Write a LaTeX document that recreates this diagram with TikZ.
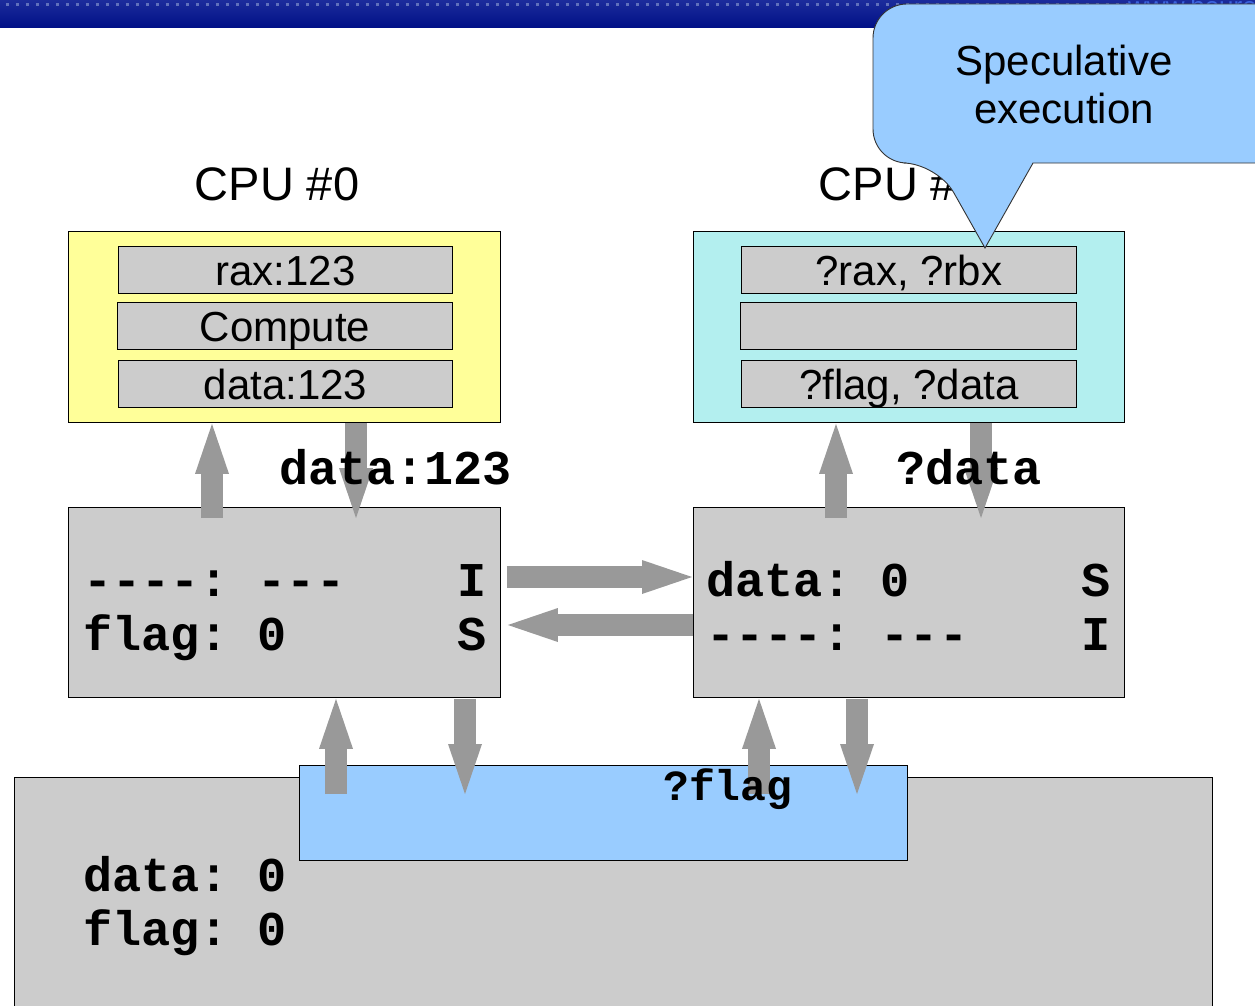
\documentclass[tikz,border=0pt]{standalone}
\usepackage{fontspec}
\setmainfont{Liberation Sans}
\setmonofont{Liberation Mono}
\usetikzlibrary{arrows.meta,calc}
\definecolor{cpuyellow}{HTML}{FFFF99}
\definecolor{cpucyan}{HTML}{B3EFEF}
\definecolor{boxgrey}{HTML}{CCCCCC}
\definecolor{arrgrey}{HTML}{999999}
\definecolor{busblue}{HTML}{99CCFF}
\definecolor{bannertop}{HTML}{1C2C9C}
\definecolor{bannerbot}{HTML}{001086}
\definecolor{bannerdot}{HTML}{6070BC}
\definecolor{urlblue}{HTML}{3C64E0}
\tikzset{
  box/.style={draw=black, line width=0.9pt, inner sep=0pt, anchor=north west},
  bar/.style={box, fill=boxgrey, font=\fontsize{42}{42}\selectfont, text height=35pt, text depth=4pt},
  mono/.style={font=\fontsize{48.5}{48.5}\ttfamily\bfseries, inner sep=0pt, anchor=base west},
  monoc/.style={font=\fontsize{48.5}{48.5}\ttfamily\bfseries, inner sep=0pt, anchor=base},
  cpulabel/.style={font=\fontsize{47}{47}\selectfont, inner sep=0pt, anchor=base},
  fat/.style={line width=22pt, draw=arrgrey, -{Triangle[width=34pt,length=50pt,line width=0pt]}},
  bubble/.style={fill=busblue, draw=black!80, line width=0.9pt}
}
\begin{document}
\begin{tikzpicture}[x=1pt,y=-1pt]
\useasboundingbox (0,0) rectangle (1255,1006);
\clip (0,0) rectangle (1255,1006);
% banner
\shade[top color=bannertop, bottom color=bannerbot] (0,0) rectangle (1255,28);
\foreach \i in {0,...,112} {
  \fill[bannerdot] ({6+10*\i},3.5) rectangle ++(3,3);
}
\node[anchor=base west, inner sep=0pt, text=urlblue, font=\fontsize{26}{26}\selectfont] (url) at (1128,16) {www.bourer};
% CPU labels
\node[cpulabel] (lbl0) at (277,200) {CPU \#0};
\node[cpulabel] (lbl1) at (901,200) {CPU \#1};
% CPU boxes
\node[box, fill=cpuyellow, minimum width=432pt, minimum height=191pt] (cpu0) at (68,231) {};
\node[box, fill=cpucyan, minimum width=431pt, minimum height=191pt] (cpu1) at (693,231) {};
\node[bar, minimum width=334pt, minimum height=47pt] (r0a) at (118,246) {rax:123};
\node[bar, minimum width=335pt, minimum height=47pt] (r0b) at (117,302) {Compute};
\node[bar, minimum width=334pt, minimum height=47pt] (r0c) at (118,360) {data:123};
\node[bar, minimum width=335pt, minimum height=47pt] (r1a) at (741,246) {?rax, ?rbx};
\node[bar, minimum width=336pt, minimum height=47pt] (r1b) at (740,302) {};
\node[bar, minimum width=335pt, minimum height=47pt] (r1c) at (741,360) {?flag, ?data};
% caches
\node[box, fill=boxgrey, minimum width=432pt, minimum height=190pt] (cache0) at (68,507) {};
\node[box, fill=boxgrey, minimum width=431pt, minimum height=190pt] (cache1) at (693,507) {};
% memory and bus
\node[box, fill=boxgrey, minimum width=1198pt, minimum height=260pt] (mem) at (14,777) {};
\node[box, fill=busblue, minimum width=608pt, minimum height=95pt] (bus) at (299,765) {};
% arrows CPU <-> cache
\draw[fat] ($(cache0.north west)+(144,11)$) -- ($(cpu0.south west)+(144,1)$);
\draw[fat] ($(cpu0.south west)+(288,0)$) -- ($(cache0.north west)+(288,11)$);
\draw[fat] ($(cache1.north west)+(143,11)$) -- ($(cpu1.south west)+(143,1)$);
\draw[fat] ($(cpu1.south west)+(288,0)$) -- ($(cache1.north west)+(288,11)$);
% arrows cache <-> cache
\draw[fat] ($(cache0.north east)+(6,70)$) -- ($(cache1.north west)+(-1,70)$);
\draw[fat] ($(cache1.north west)+(0,118)$) -- ($(cache0.north east)+(7,118)$);
% arrows cache <-> bus
\draw[fat] ($(bus.north west)+(37,29)$) -- ($(cache0.south west)+(268,1)$);
\draw[fat] ($(cache0.south west)+(397,1)$) -- ($(bus.north west)+(166,29)$);
\draw[fat] ($(bus.north west)+(460,29)$) -- ($(cache1.south west)+(66,1)$);
\draw[fat] ($(cache1.south west)+(164,1)$) -- ($(bus.north west)+(558,29)$);
% cache contents
\node[mono] (c0l1) at (83,596) {----: ---};
\node[mono] (c0l2) at (83,650) {flag: 0};
\node[monoc] (c0s1) at (472,596) {I};
\node[monoc] (c0s2) at (472,650) {S};
\node[mono] (c1l1) at (706,596) {data: 0};
\node[mono] (c1l2) at (706,650) {----: ---};
\node[monoc] (c1s1) at (1096,596) {S};
\node[monoc] (c1s2) at (1096,650) {I};
\node[mono] (m1) at (83,891) {data: 0};
\node[mono] (m2) at (83,945) {flag: 0};
% transfer labels
\node[mono] (t0) at (279,484) {data:123};
\node[mono] (t1) at (896,484) {?data};
\node[mono, font=\fontsize{43}{43}\ttfamily\bfseries] (t2) at (663,800) {?flag};
% callout
\draw[bubble] (1033,163) -- (1300,163) [rounded corners=34pt] -- (1300,4) -- (873,4) -- (873,163) -- (937,163) [sharp corners] -- (985,248) -- cycle;
\node[align=center, inner sep=0pt, font=\fontsize{42}{48}\selectfont] (spec) at (1064,84) {Speculative\\execution};
\end{tikzpicture}
\end{document}
